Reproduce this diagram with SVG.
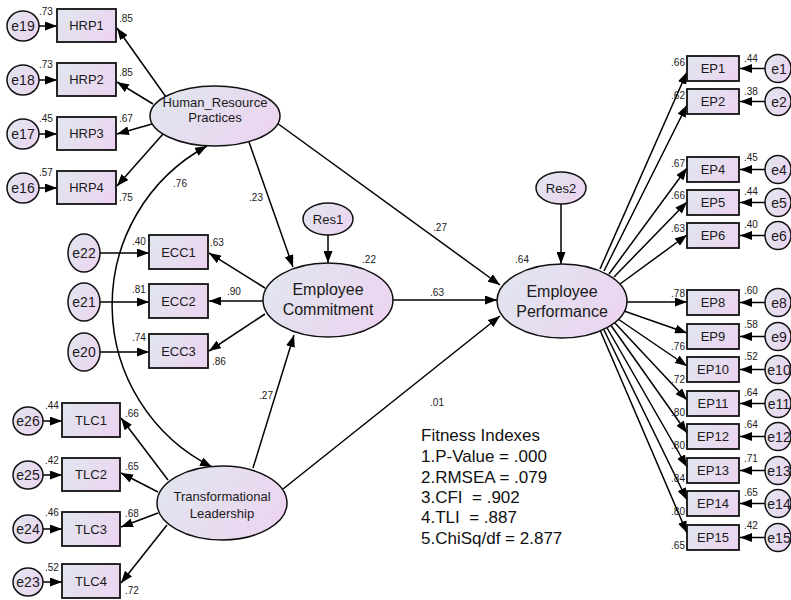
<svg xmlns="http://www.w3.org/2000/svg" width="791" height="600" viewBox="0 0 791 600">
<defs>
<linearGradient id="g" x1="0" y1="0.3" x2="1" y2="0.7">
<stop offset="0" stop-color="#e1e5ef"/>
<stop offset="1" stop-color="#ecd4f0"/>
</linearGradient>
<marker id="ah" markerWidth="12" markerHeight="9" refX="12" refY="4.5" orient="auto-start-reverse" markerUnits="userSpaceOnUse">
<path d="M0,0 L12,4.5 L0,9 z" fill="#000"/>
</marker>
<style>
.box{fill:url(#g);stroke:#111;stroke-width:1.8}
.ell{fill:url(#g);stroke:#111;stroke-width:1.5}
.t{font-family:"Liberation Sans",Arial,sans-serif;fill:#1a1a1a;text-anchor:middle}
.t13{font-size:13px}
.t14{font-size:14px}
.t16{font-size:16px}
.lb{font-family:"Liberation Sans",Arial,sans-serif;font-size:10px;fill:#1a1a1a}
.m{text-anchor:middle}
.e{text-anchor:end}
.c line,.c path{stroke:#000;stroke-width:1.5;fill:none;marker-end:url(#ah)}
.fit{font-family:"Liberation Sans",Arial,sans-serif;font-size:17px;fill:#111}
</style>
</defs>
<rect width="791" height="600" fill="#fff"/>

<g id="connectors" class="c">
<line x1="166" y1="97" x2="117" y2="28"/>
<line x1="153" y1="104" x2="117" y2="82"/>
<line x1="152" y1="124" x2="117" y2="134"/>
<line x1="163" y1="134" x2="117" y2="186"/>
<line x1="39" y1="26" x2="57" y2="26"/>
<line x1="39" y1="80" x2="57" y2="80"/>
<line x1="39" y1="134" x2="57" y2="134"/>
<line x1="39" y1="188" x2="57" y2="188"/>
<line x1="265" y1="288" x2="209" y2="253"/>
<line x1="263" y1="301" x2="209" y2="301"/>
<line x1="265" y1="314" x2="209" y2="351"/>
<line x1="100" y1="253" x2="149" y2="253"/>
<line x1="100" y1="302" x2="149" y2="302"/>
<line x1="100" y1="352" x2="149" y2="352"/>
<line x1="168" y1="480" x2="121" y2="418"/>
<line x1="158" y1="492" x2="121" y2="473"/>
<line x1="158" y1="513" x2="121" y2="527"/>
<line x1="167" y1="525" x2="121" y2="583"/>
<line x1="43" y1="421" x2="62" y2="421"/>
<line x1="43" y1="475" x2="62" y2="475"/>
<line x1="43" y1="529" x2="62" y2="529"/>
<line x1="43" y1="582" x2="62" y2="582"/>
<line x1="249" y1="142" x2="293" y2="267"/>
<line x1="277" y1="123" x2="500" y2="285"/>
<line x1="328" y1="235" x2="328" y2="263"/>
<line x1="561" y1="204" x2="561" y2="264"/>
<line x1="393" y1="300" x2="497" y2="300"/>
<line x1="253" y1="468" x2="294" y2="335"/>
<line x1="283" y1="489" x2="500" y2="316"/>
<path d="M207,146 A181,181 0 0 0 212,467" style="marker-start:url(#ah)"/>
<line x1="600" y1="269" x2="687" y2="72"/>
<line x1="604" y1="271" x2="687" y2="105"/>
<line x1="609" y1="274" x2="687" y2="168"/>
<line x1="614" y1="277" x2="687" y2="202"/>
<line x1="620" y1="284" x2="687" y2="235"/>
<line x1="627" y1="302" x2="687" y2="302"/>
<line x1="624" y1="311" x2="687" y2="333"/>
<line x1="618" y1="319" x2="687" y2="366"/>
<line x1="614" y1="322" x2="687" y2="400"/>
<line x1="610" y1="324" x2="687" y2="433"/>
<line x1="606" y1="326" x2="687" y2="467"/>
<line x1="603" y1="328" x2="687" y2="500"/>
<line x1="600" y1="330" x2="687" y2="533"/>
<line x1="765" y1="68.5" x2="740" y2="68.5"/>
<line x1="765" y1="101.5" x2="740" y2="101.5"/>
<line x1="765" y1="169.5" x2="740" y2="169.5"/>
<line x1="765" y1="202.5" x2="740" y2="202.5"/>
<line x1="765" y1="235.5" x2="740" y2="235.5"/>
<line x1="765" y1="302.5" x2="740" y2="302.5"/>
<line x1="765" y1="336.5" x2="740" y2="336.5"/>
<line x1="765" y1="369.5" x2="740" y2="369.5"/>
<line x1="765" y1="403.5" x2="740" y2="403.5"/>
<line x1="765" y1="436.5" x2="740" y2="436.5"/>
<line x1="765" y1="470.5" x2="740" y2="470.5"/>
<line x1="765" y1="503.5" x2="740" y2="503.5"/>
<line x1="765" y1="537.5" x2="740" y2="537.5"/>
</g>

<g id="HRP"><ellipse class="ell" cx="215" cy="116" rx="65" ry="30"/><text class="t t13" x="215" y="107">Human_Resource</text><text class="t t13" x="215" y="122">Practices</text></g>
<g id="EC"><ellipse class="ell" cx="328" cy="300" rx="65" ry="37"/><text class="t t16" x="328" y="295">Employee</text><text class="t t16" x="328" y="315">Commitment</text></g>
<g id="EPF"><ellipse class="ell" cx="562" cy="301" rx="65" ry="37"/><text class="t t16" x="562" y="297">Employee</text><text class="t t16" x="562" y="317">Performance</text></g>
<g id="TL"><ellipse class="ell" cx="222" cy="503" rx="65" ry="37"/><text class="t t13" x="222" y="501">Transformational</text><text class="t t13" x="222" y="518">Leadership</text></g>
<g id="Res1"><ellipse class="ell" cx="328" cy="219" rx="25" ry="16"/><text class="t t13" x="328" y="224">Res1</text></g>
<g id="Res2"><ellipse class="ell" cx="561" cy="188" rx="25" ry="16"/><text class="t t13" x="561" y="193">Res2</text></g>

<g id="HRP1"><rect class="box" x="57" y="9" width="59" height="33"/><text class="t t13" x="86.5" y="30">HRP1</text></g>
<g id="HRP2"><rect class="box" x="57" y="63" width="59" height="33"/><text class="t t13" x="86.5" y="84">HRP2</text></g>
<g id="HRP3"><rect class="box" x="57" y="117" width="59" height="33"/><text class="t t13" x="86.5" y="138">HRP3</text></g>
<g id="HRP4"><rect class="box" x="57" y="171" width="59" height="33"/><text class="t t13" x="86.5" y="192">HRP4</text></g>
<g id="e19"><ellipse class="ell" cx="23" cy="26" rx="16" ry="15"/><text class="t t14" x="23" y="31">e19</text></g>
<g id="e18"><ellipse class="ell" cx="23" cy="80" rx="16" ry="15"/><text class="t t14" x="23" y="85">e18</text></g>
<g id="e17"><ellipse class="ell" cx="23" cy="134" rx="16" ry="15"/><text class="t t14" x="23" y="139">e17</text></g>
<g id="e16"><ellipse class="ell" cx="23" cy="188" rx="16" ry="15"/><text class="t t14" x="23" y="193">e16</text></g>

<g id="ECC1"><rect class="box" x="149" y="235" width="59" height="34"/><text class="t t13" x="178.5" y="257">ECC1</text></g>
<g id="ECC2"><rect class="box" x="149" y="284" width="59" height="34"/><text class="t t13" x="178.5" y="306">ECC2</text></g>
<g id="ECC3"><rect class="box" x="149" y="334" width="59" height="34"/><text class="t t13" x="178.5" y="356">ECC3</text></g>
<g id="e22"><ellipse class="ell" cx="84" cy="253" rx="16" ry="19"/><text class="t t14" x="84" y="258">e22</text></g>
<g id="e21"><ellipse class="ell" cx="84" cy="302" rx="16" ry="19"/><text class="t t14" x="84" y="307">e21</text></g>
<g id="e20"><ellipse class="ell" cx="84" cy="352" rx="16" ry="19"/><text class="t t14" x="84" y="357">e20</text></g>

<g id="TLC1"><rect class="box" x="62" y="403" width="58" height="34"/><text class="t t13" x="91" y="425">TLC1</text></g>
<g id="TLC2"><rect class="box" x="62" y="458" width="58" height="33"/><text class="t t13" x="91" y="479">TLC2</text></g>
<g id="TLC3"><rect class="box" x="62" y="512" width="58" height="34"/><text class="t t13" x="91" y="534">TLC3</text></g>
<g id="TLC4"><rect class="box" x="62" y="564" width="58" height="34"/><text class="t t13" x="91" y="586">TLC4</text></g>
<g id="e26"><ellipse class="ell" cx="28" cy="421" rx="15" ry="14"/><text class="t t14" x="28" y="426">e26</text></g>
<g id="e25"><ellipse class="ell" cx="28" cy="475" rx="15" ry="14"/><text class="t t14" x="28" y="480">e25</text></g>
<g id="e24"><ellipse class="ell" cx="28" cy="529" rx="15" ry="14"/><text class="t t14" x="28" y="534">e24</text></g>
<g id="e23"><ellipse class="ell" cx="28" cy="582" rx="15" ry="14"/><text class="t t14" x="28" y="587">e23</text></g>

<g id="EP1"><rect class="box" x="687" y="56" width="52" height="25"/><text class="t t13" x="713" y="73">EP1</text></g>
<g id="EP2"><rect class="box" x="687" y="89" width="52" height="25"/><text class="t t13" x="713" y="106">EP2</text></g>
<g id="EP4"><rect class="box" x="687" y="157" width="52" height="25"/><text class="t t13" x="713" y="174">EP4</text></g>
<g id="EP5"><rect class="box" x="687" y="190" width="52" height="25"/><text class="t t13" x="713" y="207">EP5</text></g>
<g id="EP6"><rect class="box" x="687" y="223" width="52" height="25"/><text class="t t13" x="713" y="240">EP6</text></g>
<g id="EP8"><rect class="box" x="687" y="290" width="52" height="25"/><text class="t t13" x="713" y="307">EP8</text></g>
<g id="EP9"><rect class="box" x="687" y="324" width="52" height="25"/><text class="t t13" x="713" y="341">EP9</text></g>
<g id="EP10"><rect class="box" x="687" y="357" width="52" height="25"/><text class="t t13" x="713" y="374">EP10</text></g>
<g id="EP11"><rect class="box" x="687" y="391" width="52" height="25"/><text class="t t13" x="713" y="408">EP11</text></g>
<g id="EP12"><rect class="box" x="687" y="424" width="52" height="25"/><text class="t t13" x="713" y="441">EP12</text></g>
<g id="EP13"><rect class="box" x="687" y="458" width="52" height="25"/><text class="t t13" x="713" y="475">EP13</text></g>
<g id="EP14"><rect class="box" x="687" y="491" width="52" height="25"/><text class="t t13" x="713" y="508">EP14</text></g>
<g id="EP15"><rect class="box" x="687" y="525" width="52" height="25"/><text class="t t13" x="713" y="542">EP15</text></g>
<g id="e1"><ellipse class="ell" cx="778" cy="68.5" rx="13" ry="14"/><text class="t t14" x="779" y="73.5">e1</text></g>
<g id="e2"><ellipse class="ell" cx="778" cy="101.5" rx="13" ry="14"/><text class="t t14" x="779" y="106.5">e2</text></g>
<g id="e4"><ellipse class="ell" cx="778" cy="169.5" rx="13" ry="14"/><text class="t t14" x="779" y="174.5">e4</text></g>
<g id="e5"><ellipse class="ell" cx="778" cy="202.5" rx="13" ry="14"/><text class="t t14" x="779" y="207.5">e5</text></g>
<g id="e6"><ellipse class="ell" cx="778" cy="235.5" rx="13" ry="14"/><text class="t t14" x="779" y="240.5">e6</text></g>
<g id="e8"><ellipse class="ell" cx="778" cy="302.5" rx="13" ry="14"/><text class="t t14" x="779" y="307.5">e8</text></g>
<g id="e9"><ellipse class="ell" cx="778" cy="336.5" rx="13" ry="14"/><text class="t t14" x="779" y="341.5">e9</text></g>
<g id="e10"><ellipse class="ell" cx="778" cy="369.5" rx="13" ry="14"/><text class="t t14" x="779" y="374.5">e10</text></g>
<g id="e11"><ellipse class="ell" cx="778" cy="403.5" rx="13" ry="14"/><text class="t t14" x="779" y="408.5">e11</text></g>
<g id="e12"><ellipse class="ell" cx="778" cy="436.5" rx="13" ry="14"/><text class="t t14" x="779" y="441.5">e12</text></g>
<g id="e13"><ellipse class="ell" cx="778" cy="470.5" rx="13" ry="14"/><text class="t t14" x="779" y="475.5">e13</text></g>
<g id="e14"><ellipse class="ell" cx="778" cy="503.5" rx="13" ry="14"/><text class="t t14" x="779" y="508.5">e14</text></g>
<g id="e15"><ellipse class="ell" cx="778" cy="537.5" rx="13" ry="14"/><text class="t t14" x="779" y="542.5">e15</text></g>

<g id="labels" class="lb">
<text x="39" y="15">.73</text><text x="119" y="22">.85</text>
<text x="39" y="68">.73</text><text x="119" y="76">.85</text>
<text x="39" y="122">.45</text><text x="119" y="122">.67</text>
<text x="39" y="176">.57</text><text x="119" y="201">.75</text>
<text x="132" y="245">.40</text><text x="210" y="246">.63</text>
<text x="132" y="293">.81</text><text x="227" y="295">.90</text>
<text x="132" y="341">.74</text><text x="212" y="365">.86</text>
<text x="45" y="409">.44</text><text x="125" y="417">.66</text>
<text x="45" y="464">.42</text><text x="125" y="470">.65</text>
<text x="45" y="516">.46</text><text x="125" y="517">.68</text>
<text x="45" y="571">.52</text><text x="125" y="594">.72</text>
<text class="m" x="180" y="187">.76</text>
<text class="m" x="256" y="201">.23</text>
<text class="m" x="440" y="231">.27</text>
<text class="m" x="369" y="263">.22</text>
<text class="m" x="522" y="263">.64</text>
<text class="m" x="437" y="296">.63</text>
<text class="m" x="266" y="399">.27</text>
<text class="m" x="437" y="406">.01</text>
<text class="e" x="685" y="66">.66</text><text x="744" y="62">.44</text>
<text class="e" x="685" y="99">.62</text><text x="744" y="95">.38</text>
<text class="e" x="685" y="167">.67</text><text x="744" y="161">.45</text>
<text class="e" x="685" y="199">.66</text><text x="744" y="195">.44</text>
<text class="e" x="685" y="232">.63</text><text x="744" y="228">.40</text>
<text class="e" x="685" y="297">.78</text><text x="744" y="294">.60</text>
<text class="e" x="685" y="350">.76</text><text x="744" y="328">.58</text>
<text class="e" x="685" y="383">.72</text><text x="744" y="360">.52</text>
<text class="e" x="685" y="416">.80</text><text x="744" y="396">.64</text>
<text class="e" x="685" y="449">.80</text><text x="744" y="428">.64</text>
<text class="e" x="685" y="482">.84</text><text x="744" y="462">.71</text>
<text class="e" x="685" y="515">.80</text><text x="744" y="496">.65</text>
<text class="e" x="685" y="549">.65</text><text x="744" y="529">.42</text>
</g>

<g id="fitness" class="fit">
<text x="421" y="441">Fitness Indexes</text>
<text x="421" y="462">1.P-Value = .000</text>
<text x="421" y="483">2.RMSEA = .079</text>
<text x="421" y="503" xml:space="preserve">3.CFI  = .902</text>
<text x="421" y="523" xml:space="preserve">4.TLI  = .887</text>
<text x="421" y="544">5.ChiSq/df = 2.877</text>
</g>
</svg>
